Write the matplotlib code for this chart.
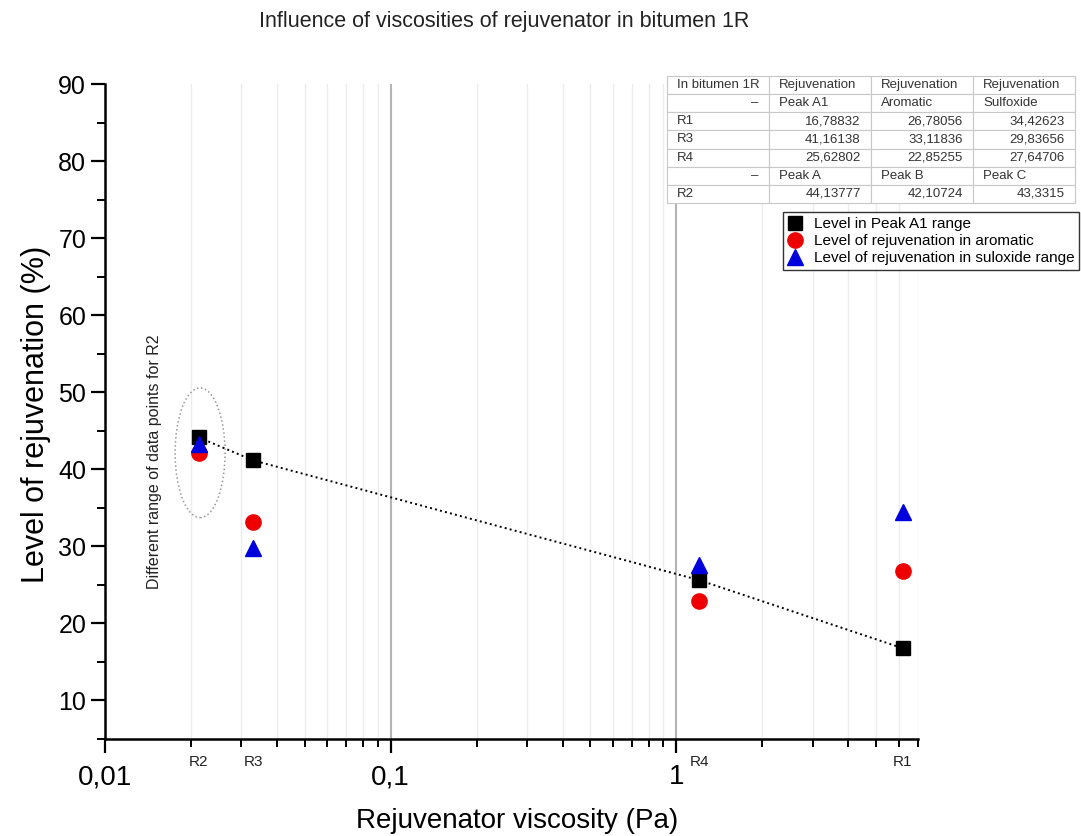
import matplotlib
matplotlib.use("Agg")
import matplotlib.pyplot as plt
from matplotlib.ticker import FixedLocator, FuncFormatter, MultipleLocator, NullFormatter
from matplotlib.patches import Ellipse

# Rejuvenators, ordered by viscosity
samples = ["R2", "R3", "R4", "R1"]
viscosity = [0.0213, 0.033, 1.20, 6.19]  # Pa

# Level of rejuvenation (%)
peak_a1 = [44.13777, 41.16138, 25.62802, 16.78832]
aromatic = [42.10724, 33.11836, 22.85255, 26.78056]
sulfoxide = [43.3315, 29.83656, 27.64706, 34.42623]

# Table rows as printed in the chart
table_rows = [
    ["In bitumen 1R", "Rejuvenation", "Rejuvenation", "Rejuvenation"],
    ["\u2013", "Peak A1", "Aromatic", "Sulfoxide"],
    ["R1", "16,78832", "26,78056", "34,42623"],
    ["R3", "41,16138", "33,11836", "29,83656"],
    ["R4", "25,62802", "22,85255", "27,64706"],
    ["\u2013", "Peak A", "Peak B", "Peak C"],
    ["R2", "44,13777", "42,10724", "43,3315"],
]

major_x = [0.01, 0.1, 1]
major_x_labels = ["0,01", "0,1", "1"]

plt.rcParams["font.family"] = ["Liberation Sans", "DejaVu Sans"]

fig = plt.figure(figsize=(10.81, 8.36), dpi=100)
ax = fig.add_axes([0.0971, 0.116, 0.752, 0.7835])

ax.set_xscale("log")
ax.set_xlim(0.01, 7)
ax.set_ylim(5, 90)

# x ticks with decimal commas, vertical grid only
ax.xaxis.set_major_locator(FixedLocator(major_x))
ax.xaxis.set_major_formatter(FuncFormatter(lambda v, p: major_x_labels[major_x.index(v)] if v in major_x else ""))
minor_x = [m * d for d in (0.01, 0.1, 1) for m in range(2, 10) if m * d <= 7.001]
ax.xaxis.set_minor_locator(FixedLocator(minor_x))
ax.xaxis.set_minor_formatter(NullFormatter())
ax.grid(which="minor", axis="x", color="#ececec", lw=1.0)
ax.grid(which="major", axis="x", color="#b4b4b4", lw=1.5)
ax.set_axisbelow(True)

ax.set_yticks(range(10, 91, 10))
ax.yaxis.set_minor_locator(MultipleLocator(5))

for s in ["top", "right"]:
    ax.spines[s].set_visible(False)
for s in ["left", "bottom"]:
    ax.spines[s].set_linewidth(1.8)

ax.tick_params(axis="both", which="major", direction="out", length=10, width=1.6)
ax.tick_params(axis="both", which="minor", direction="out", length=6, width=1.4)
ax.tick_params(axis="y", labelsize=18)
ax.tick_params(axis="x", labelsize=20, pad=8)

# trend line through the Peak A1 points
ax.plot(viscosity, peak_a1, ":", color="black", lw=1.4, zorder=3)
h1, = ax.plot(viscosity, peak_a1, "s", color="black", ms=10, ls="none", zorder=4,
              label="Level in Peak A1 range")
h2, = ax.plot(viscosity, aromatic, "o", color="#ee0000", ms=11, ls="none", zorder=4,
              label="Level of rejuvenation in aromatic")
h3, = ax.plot(viscosity, sulfoxide, "^", color="#0000dd", ms=12, ls="none", zorder=5,
              label="Level of rejuvenation in suloxide range")

# sample names under the axis
for name, v in zip(samples, viscosity):
    ax.text(v, -0.035, name, transform=ax.get_xaxis_transform(), ha="center", va="center",
            fontsize=11, color="#222222")

# R2 highlight
ax.add_patch(Ellipse((0.117, 0.437), 0.0615, 0.198, transform=ax.transAxes, fill=False,
                     edgecolor="#999999", ls=":", lw=1.1))
ax.text(0.0615, 0.424, "Different range of data points for R2", transform=ax.transAxes,
        rotation=90, ha="center", va="center", fontsize=11.5, color="#222222")

fig.text(0.466, 0.974, "Influence of viscosities of rejuvenator in bitumen 1R",
         ha="center", va="center", fontsize=15.5, color="#222222")
fig.text(0.033, 0.504, "Level of rejuvenation (%)", rotation=90, ha="center", va="center",
         fontsize=22)
fig.text(0.478, 0.018, "Rejuvenator viscosity (Pa)", ha="center", va="center",
         fontsize=20)

# data table
tax = fig.add_axes([667 / 1081, 1 - 203 / 836, 408 / 1081, 127 / 836])
tax.axis("off")
tbl = tax.table(cellText=table_rows, cellLoc="left", bbox=[0, 0, 1, 1])
tbl.auto_set_font_size(False)
for (r, c), cell in tbl.get_celld().items():
    cell.set_edgecolor("#c8c8c8")
    cell.set_linewidth(0.8)
    txt = cell.get_text()
    txt.set_fontsize(9.5)
    txt.set_color("#333333")
    right = (c > 0 and r in (2, 3, 4, 6)) or (c == 0 and r in (1, 5))
    if right:
        cell._loc = "right"
        txt.set_ha("right")

leg = fig.legend(handles=[h1, h2, h3], loc="upper right", bbox_to_anchor=(0.998, 0.746),
                 fontsize=11, frameon=True, fancybox=False, edgecolor="black",
                 borderpad=0.3, labelspacing=0.2, handletextpad=0.7, handlelength=1.0,
                 borderaxespad=0)
leg.get_frame().set_linewidth(1.0)

fig.savefig("out.png", dpi=100)
